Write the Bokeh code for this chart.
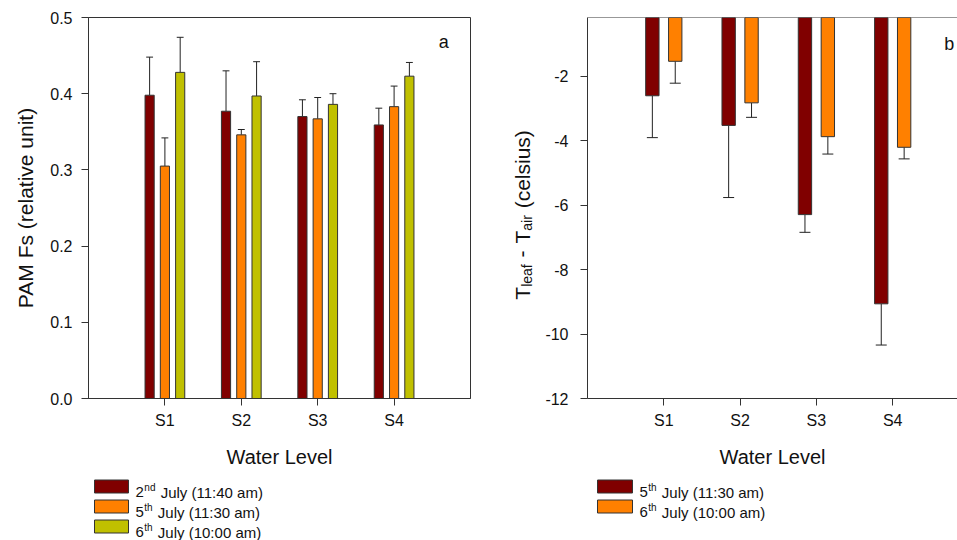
import numpy as np
from bokeh.plotting import figure
from bokeh.layouts import row, column
from bokeh.models import Range1d, FixedTicker, Span, PrintfTickFormatter
from bokeh.core.properties import value
from bokeh.embed import file_html
from bokeh.resources import INLINE

# ---------------- data ----------------
categories = ["S1", "S2", "S3", "S4"]

# panel a: PAM Fs (relative unit)
fs_series = [("2", "nd", "July (11:40 am)"),
             ("5", "th", "July (11:30 am)"),
             ("6", "th", "July (10:00 am)")]
fs_jul2 = [0.398, 0.377, 0.370, 0.359]
fs_jul2_err = [0.050, 0.053, 0.022, 0.022]
fs_jul5 = [0.305, 0.346, 0.367, 0.383]
fs_jul5_err = [0.037, 0.007, 0.028, 0.027]
fs_jul6 = [0.428, 0.397, 0.386, 0.423]
fs_jul6_err = [0.046, 0.045, 0.014, 0.018]
fs_yticks = [0.0, 0.1, 0.2, 0.3, 0.4, 0.5]

# panel b: T_leaf - T_air (celsius)
dt_series = [("5", "th", "July (11:30 am)"),
             ("6", "th", "July (10:00 am)")]
dt_jul5 = [-2.60, -3.52, -6.29, -9.06]
dt_jul5_err = [1.30, 2.24, 0.55, 1.28]
dt_jul6 = [-1.53, -2.82, -3.87, -4.20]
dt_jul6_err = [0.68, 0.45, 0.54, 0.36]
dt_yticks = [-12, -10, -8, -6, -4, -2]

# ---------------- style ----------------
FONT = "Liberation Sans"
MAROON = "#800000"
ORANGE = "#FF8000"
OLIVE = "#C0C000"
EDGE = "#333333"
AXC = "#333333"
TXT = "#111111"

# Arial / Liberation Sans advance widths (per 1 em)
ADV = {"T": 0.611, " ": 0.278, "-": 0.333, "l": 0.222, "e": 0.556, "a": 0.556,
       "f": 0.278, "i": 0.222, "r": 0.333, "n": 0.556, "d": 0.556, "t": 0.278,
       "h": 0.556, "0": 0.556, "1": 0.556, "2": 0.556, "3": 0.556, "4": 0.556,
       "5": 0.556, "6": 0.556, "7": 0.556, "8": 0.556, "9": 0.556}


def tw(s, size):
    return sum(ADV.get(c, 0.5) for c in s) * size


def style_axes(p):
    for ax in (p.xaxis[0], p.yaxis[0]):
        ax.axis_line_color = AXC
        ax.major_tick_line_color = AXC
        ax.major_tick_out = 7
        ax.major_tick_in = 0
        ax.minor_tick_line_color = None
        ax.major_label_text_font = FONT
        ax.major_label_text_font_size = "16px"
        ax.major_label_text_color = TXT
        ax.axis_label_text_font = FONT
        ax.axis_label_text_font_style = "normal"
        ax.axis_label_text_color = TXT
    p.xgrid.visible = False
    p.ygrid.visible = False
    p.background_fill_color = "white"
    p.border_fill_color = "white"


x_idx = np.arange(1, len(categories) + 1)
MAIN_H = 472
TOP_B, BOT_B = 17, 74
A_LEFT, A_RIGHT = 88, 10
LAB_X0, LAB_X1 = 480, 540

# ---------------- panel a ----------------
pa = figure(width=480, height=MAIN_H, x_range=Range1d(0, 5), y_range=Range1d(0, 0.5),
            min_border_left=A_LEFT, min_border_right=A_RIGHT, min_border_top=TOP_B,
            min_border_bottom=BOT_B, toolbar_location=None, output_backend="svg")
style_axes(pa)
pa.outline_line_color = AXC
pa.xaxis.ticker = FixedTicker(ticks=list(x_idx))
pa.xaxis.major_label_overrides = {int(i): c for i, c in zip(x_idx, categories)}
pa.xaxis.axis_label = "Water Level"
pa.xaxis.axis_label_text_font_size = "20px"
pa.xaxis.axis_label_standoff = 14
pa.xaxis.major_label_standoff = 6
pa.yaxis.ticker = FixedTicker(ticks=fs_yticks)
pa.yaxis.formatter = PrintfTickFormatter(format="%.1f")
pa.yaxis.major_label_standoff = 9
pa.yaxis.axis_label = "PAM Fs (relative unit)"
pa.yaxis.axis_label_text_font_size = "21px"
pa.yaxis.axis_label_standoff = 10

bw_a = 0.12
cap_a = 0.045
for vals, errs, col, off in ((fs_jul2, fs_jul2_err, MAROON, -0.2),
                             (fs_jul5, fs_jul5_err, ORANGE, 0.0),
                             (fs_jul6, fs_jul6_err, OLIVE, 0.2)):
    xs = x_idx + off
    v = np.array(vals)
    top = v + np.array(errs)
    pa.segment(x0=xs, y0=v, x1=xs, y1=top, line_color="#222222", line_width=1)
    pa.segment(x0=xs - cap_a, y0=top, x1=xs + cap_a, y1=top, line_color="#222222", line_width=1)
    pa.vbar(x=xs, top=v, bottom=0, width=bw_a, fill_color=col, line_color=EDGE, line_width=1)
pa.text(x=[4.65], y=[0.468], text=["a"], text_font=value(FONT), text_font_size=value("18px"),
        text_align="center", text_baseline="alphabetic", text_color=TXT)

# ---------------- panel b ----------------
b_top = -0.17
pb = figure(width=957 - LAB_X1, height=MAIN_H, x_range=Range1d(0, 370 / 76.3),
            y_range=Range1d(-12, b_top),
            min_border_left=587 - LAB_X1, min_border_right=0, min_border_top=TOP_B,
            min_border_bottom=BOT_B, toolbar_location=None, output_backend="svg")
style_axes(pb)
pb.outline_line_color = None
pb.add_layout(Span(location=b_top, dimension="width", line_color=AXC, line_width=1))
pb.xaxis.ticker = FixedTicker(ticks=list(x_idx))
pb.xaxis.major_label_overrides = {int(i): c for i, c in zip(x_idx, categories)}
pb.xaxis.axis_label = "Water Level"
pb.xaxis.axis_label_text_font_size = "20px"
pb.xaxis.axis_label_standoff = 14
pb.xaxis.major_label_standoff = 6
pb.yaxis.ticker = FixedTicker(ticks=dt_yticks)
pb.yaxis.formatter = PrintfTickFormatter(format="%d")
pb.yaxis.major_label_standoff = 12

bw_b = 0.175
cap_b = 0.072
for vals, errs, col, off in ((dt_jul5, dt_jul5_err, MAROON, -0.15),
                             (dt_jul6, dt_jul6_err, ORANGE, 0.15)):
    xs = x_idx + off
    v = np.array(vals)
    bot = v - np.array(errs)
    pb.segment(x0=xs, y0=v, x1=xs, y1=bot, line_color="#222222", line_width=1)
    pb.segment(x0=xs - cap_b, y0=bot, x1=xs + cap_b, y1=bot, line_color="#222222", line_width=1)
    pb.vbar(x=xs, top=0, bottom=v, width=bw_b, fill_color=col, line_color=EDGE, line_width=1)
pb.text(x=[4.74], y=[-0.99], text=["b"], text_font=value(FONT), text_font_size=value("18px"),
        text_align="center", text_baseline="alphabetic", text_color=TXT)

# ---------------- rotated y label of panel b (with subscripts) ----------------
# page-pixel coordinates: x = page x, y = -page y.  In the row, this plot's frame is
# aligned with panel b's frame (top/bottom borders), so the y range spans that frame.
lab = figure(width=LAB_X1 - LAB_X0, height=MAIN_H, x_range=Range1d(LAB_X0, LAB_X1),
             y_range=Range1d(-(MAIN_H - BOT_B), -TOP_B),
             x_axis_type=None, y_axis_type=None, min_border=0,
             toolbar_location=None, output_backend="svg")
lab.outline_line_color = None
lab.xgrid.visible = False
lab.ygrid.visible = False
MAIN, SUB = 21, 14
pieces = [("T", MAIN, 0), ("leaf", SUB, 5), (" ", MAIN, None), ("-", MAIN, 0), (" ", MAIN, None),
          ("T", MAIN, 0), ("air", SUB, 5), (" ", MAIN, None), ("(celsius)", MAIN, 0)]
total = sum(tw(s, sz) + (1 if d is None else 0) for s, sz, d in pieces)
base_x = 521.5
pos = 211.5 + total / 2  # page y of the start (bottom)
for s, sz, dx in pieces:
    w = tw(s, sz)
    if dx is not None:
        lab.text(x=[base_x + dx], y=[-pos], text=[s], angle=np.pi / 2,
                 text_font=value(FONT), text_font_size=value(f"{sz}px"),
                 text_align="left", text_baseline="alphabetic", text_color=TXT)
    else:
        w += 1
    pos -= w


# ---------------- legends ----------------
LEG_H = 540 - MAIN_H


def make_legend(width, xr, boxes_x, box_w, y_first, y_step, series, colors):
    lg = figure(width=width, height=LEG_H, x_range=Range1d(*xr),
                y_range=Range1d(-540, -MAIN_H),
                x_axis_type=None, y_axis_type=None, min_border=0,
                toolbar_location=None, output_backend="svg")
    lg.outline_line_color = None
    lg.xgrid.visible = False
    lg.ygrid.visible = False
    fsz, ssz = 15, 10
    for k, ((num, sup, rest), col) in enumerate(zip(series, colors)):
        yc = y_first + k * y_step
        lg.rect(x=[boxes_x + box_w / 2], y=[-yc], width=box_w, height=13,
                fill_color=col, line_color=EDGE, line_width=1)
        tx = boxes_x + box_w + 7
        base = yc + 5.5
        lg.text(x=[tx], y=[-base], text=[num], text_font=value(FONT), text_font_size=value(f"{fsz}px"),
                text_baseline="alphabetic", text_color=TXT)
        tx += tw(num, fsz) + 0.5
        lg.text(x=[tx], y=[-(base - 5)], text=[sup], text_font=value(FONT),
                text_font_size=value(f"{ssz}px"), text_baseline="alphabetic", text_color=TXT)
        tx += tw(sup, ssz) + tw(" ", fsz) + 1
        lg.text(x=[tx], y=[-base], text=[rest], text_font=value(FONT), text_font_size=value(f"{fsz}px"),
                text_baseline="alphabetic", text_color=TXT)
    return lg


# in the column, the left legend's frame is aligned with panel a's frame (left/right borders)
leg_a = make_legend(480, (A_LEFT, 480 - A_RIGHT), 94, 34, 486, 20, fs_series, [MAROON, ORANGE, OLIVE])
leg_b = make_legend(477, (480, 957), 597, 35, 486, 20, dt_series, [MAROON, ORANGE])

layout = row(column(pa, leg_a), column(row(lab, pb), leg_b))

with open("out.html", "w") as f:
    f.write(file_html(layout, INLINE))
